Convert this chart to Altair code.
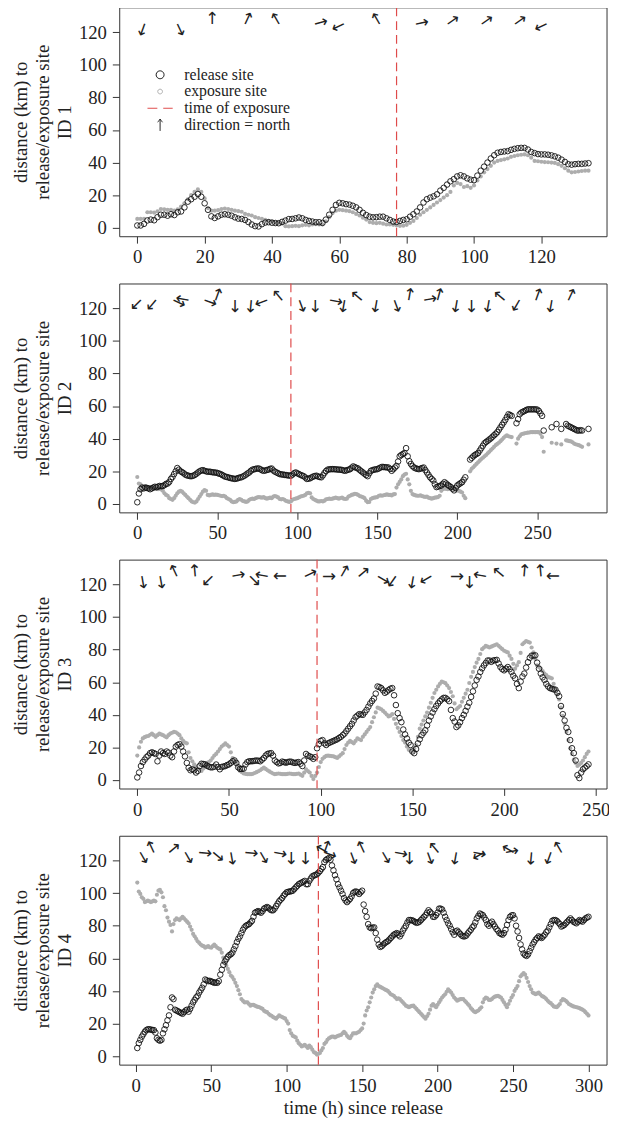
import altair as alt
import pandas as pd

FONT = "Liberation Serif, Times New Roman, Times, serif"
TXT = "#222222"
GRAY = "#adadad"
RED = "#df4b4b"

# ---------------- ID 1 ----------------
id1_release = [1.4,1.4,2.4,4.5,5,4.6,6.5,8,8,7.4, 8.3,7.8,9.5,10,12.5,16,17.5,19,20.7,19,
               15,11,7,6,7,8,8.3,8,7.4,6.4, 5.6,5.4,4.8,3.5,2,1,0.8,2.2,3.2,3.4,
               3.1,2.9,2.8,3.6,4.4,5.3,5.4,5.8,6.3,5.8, 4.8,4.2,3.8,3.4,3.4,3,5,8,11,14,
               15.3,15,14.5,14.2,13.5,12.5,11,9.2,7.8,6.8, 6.4,6.5,6.8,6.8,5.8,4.8,3.8,3.6,4.2,4.8,
               5.2,6.8,8.3,10,12.5,15.5,17.5,18.5,19.3,20.5, 22.8,24.5,26.5,28.5,29.8,31.5,32.2,31.5,30.3,29.5,
               29.2,32,35,37.5,40,42.5,44.5,46,46.5,46.8, 47,47.8,48.4,48.8,49,49,48,46.5,45.8,45.2,
               45,45,44.8,44.4,43.8,43,41.8,40.4,39,38.7, 39,39.2,39.2,39.4,39.6]
id1_exposure = [5.4,5.4,5.5,9.5,9.5,9.3,10,11.5,11.3,11, 11,10.5,11.3,13,15,17.5,20,22,23.5,22,
                18,12,10.5,10.5,10.8,11.5,11.8,11.5,11,10.5, 10.2,9.8,8.5,8,7.5,6.5,6,5.5,4.8,4.3,
                4,3.2,3,2.5,1,0.8,1,1.2,1,1.5, 1.8,1.5,2,2.2,2,2,4,6.5,9,10.5,
                11,10.8,10.5,10.2,9.5,8.5,7.5,6.2,5,3.5, 3,2.8,3,2.5,2,2,1.8,1.5,1.2,1.3,
                1.8,3,4.2,6,8,9.5,11,12.5,14,15.5, 17,18.5,20,22,26,27.5,26.8,25,25.5,24.5,
                26,29,31.5,34,36,38,40,41,41.5,42, 42.5,43.5,44,44.5,44.8,45,44.5,43,41,40.8,
                40.5,40.3,40.2,40,39.8,39,38,36.5,35,34, 34.2,34.5,34.8,35,35]
id1_exposure_time = 77
id1_arrow_t = [1.7,12.5,22.2,32.6,41.4,54.2,60,71.2,84.2,93.4,103.5,113.4,120.2]
id1_arrow_dir = [200,155,0,25,330,75,245,330,78,55,55,55,245]

# ---------------- ID 2 ----------------
id2_release = [1,6.4,9,10,9.5,10,9.8,9.5,9,9.5, 10,10.5,10.2,10.6,11,10.8,11,11.5,12.3,12.5,
               13.5,15.3,16.5,18.3,20,22,21,20,19.5,18.8, 18,17.5,17.3,17,17,17.3,17.8,18.5,19.3,20,
               20.5,20.7,20.3,20,19.7,19.8,19.6,19.4,19.3,19.2, 19,18.6,18.3,17.8,17.2,16.7,16.5,16.2,15.9,15.7,
               15.5,15.3,15.5,15.8,16.2,16.3,16.8,17.3,18,18.7, 19.3,20.3,21,21.2,21.5,21.7,21.7,21.2,20.6,20.3,
               20.5,20.8,21,21.5,21.7,20.5,19.8,19.3,18.8,18.3, 18.1,18,17.8,17.7,17.5,17.4,17.3,18,18.8,19.3,
               18.8,18.3,17.8,17.4,17,16.2,15.3,15.5,15.7,16.3, 16.8,17.1,17.3,16.8,16.5,16.3,17.5,19,20.2,21,
               21.2,21.3,21.3,21.3,21.2,21.1,21,21,20.8,20.5, 20.3,20.7,21,21.3,22.2,23,22.5,22.1,21.7,20.8,
               20,19.3,18.5,17.7,17,18.8,20.3,20.7,21,21.2, 21.3,21.8,22.3,22.7,22.6,22.5,22.4,22.3,21.5,20.3,
               21.3,22.3,23.3,26,29.2,30,30.6,31.2,34.2,29.2, 26.2,24.5,23.2,22.3,21.8,21.5,21.3,21.6,22,22.3,
               20.8,19.3,17.8,16.3,15.3,14.3,12,10.3,10.6,11, 11.3,12.3,13.3,12.5,11.7,11,10.3,9.3,8.3,9.8,
               11.3,12,12.7,13.3,14.8,16.3,None,None,27.2,28.2, 29.2,30,30.6,31.2,32.7,34.2,35.7,37.2,38,38.7,
               39.5,40.2,41.2,42.1,43,44,45.5,47,48.5,50, 51.5,53.3,55,54.5,54,None,None,49.5,52,55,
               56,56.5,57,57.5,58,58,58,58,58,58, 57.8,57,55.5,54,45,None,None,None,None,47,
               None,None,49,None,None,46,None,None,49,48, 47.5,47,46.5,46,45.5,45,45,45.2,45,None,
               None,None,46]
id2_exposure = [16.5,12.5,12,11,10.5,10.8,10.5,10.2,10,10.2, 10,9.5,9.3,9,9.2,8.8,8,6.5,5.5,5,
                3.5,3,2.5,3.5,5,6.5,7.5,8,7.5,6.5, 5.5,4.5,3.5,2.5,1.5,1,0.8,1.5,3,4.5,
                6,7.5,8.5,8,5.5,5.2,5.5,5.8,5.5,5.7, 5.5,5.3,5,4.8,5,4.5,3.5,3,2.5,1.5,
                1,1.2,1.5,2.5,3,2.5,1.8,1.5,1.2,1.5, 2.5,3,3.2,3,3.5,4,4.2,4,3.8,4.2,
                3.5,3.2,3.5,3.8,3.5,4.5,4.8,4.5,4,3, 2.8,3,2.5,1.8,1.5,1.2,1.5,2.5,3,3.2,
                3.5,4,4.5,4.8,5,5.5,6.5,6.8,6.5,4, 3,2.5,2,1.5,1.5,1.8,1.5,2,2.8,3,
                3.2,3,3.2,3.5,3.8,3.5,3.2,3.6,3.8,3.2, 3,3.2,4.5,5,5.5,5.8,6.2,6,5.5,4.8,
                4.5,4.2,3.5,2,1,1.2,3,3.5,3.8,4, 4.2,5,5.2,5,5.3,5.5,5.8,5.5,5.5,5.2,
                5.8,6,10,12,13.5,15,17,18,18.5,15, 12,8,6,5.5,5.2,5,5,5.2,4.8,4.5,
                4.3,4.5,3.8,3.5,3.2,3.5,3.8,4,4.2,5, 8,9,9.5,9.2,9,9.3,10,9.5,9,8.5,
                8.2,8,7.5,7,5,3.5,None,None,20,21.5, 22.5,23.5,24.5,25.5,26.5,27.5,28.3,29.2,30,31,
                32,33,34,35,36,36.8,37.5,38.5,39.5,40.5, 41.5,42,41.5,41.2,41,None,None,37,40,41.5,
                42.7,43,43.3,43.5,43.7,43.8,44,44,44,44, 44,44,43,41,32,None,None,None,None,37.5,
                None,None,37,None,None,36.5,None,None,39,38.8, 38.5,38.4,37.8,37,36.6,36.3,36,35.5,35,None,
                None,None,36.5]
id2_exposure_time = 96
id2_arrow_t = [0,9.7,25.5,29,45,50,61.3,71,78.2,88.6,102.4,111.4,123.5,129,138,149.2,161.7,
               170.2,182.3,188.4,199.3,209,219.4,227.1,237.3,250.1,258.6,270.7]
id2_arrow_dir = [225,220,115,280,110,20,180,185,250,320,160,180,100,190,310,190,160,
                 10,80,15,190,180,190,310,210,20,190,25]

# ---------------- ID 3 ----------------
id3_release = [1.6,4.6,8.6,11,12.5,14,15,16.5,17,16.5, 16,11.5,15,17.5,16.5,16,17.5,16.8,15,14,
               17.5,20.5,21.5,22,20.5,17.5,14.5,10.5,7.5,6, 6.6,6,4.6,5.6,8.6,10,9.8,9.6,8.8,8.2,
               7.8,7.8,8.2,9.5,8,6.6,8,8.3,8.6,9.2, 9.6,10.5,11.5,12,10.5,7.8,6.8,6.8,7,9.5,
               11,11.5,11.5,11.6,11.8,12,11.8,11.5,12.5,13.5, 15,16,16.3,16.5,15,12,11,10.2,10.5,11.3,
               11,10.6,11,11.3,11.2,10.7,10.5,10.8,11,10, 8.6,12,16,15,14.5,14,13,14,19.5,22,
               24,24.5,22.5,21.5,22.5,23,23.5,24,24.5,25, 25.8,26.5,27.5,28.5,30,31.5,33,34.5,36.5,38.5,
               39.5,40.4,40.2,40,41.5,43,45,47,48.5,50, 53,57.4,57,56.4,55,53.5,54.2,55.2,56,56.4,
               52,46,41,38,35.5,31,28,25.5,23,21.5, 17.5,16.5,19,22.5,25,27.5,29,30.5,33.5,36.5,
               39,41.4,43.5,45.4,47,48.4,49.5,50.4,50.4,49.5, 48.4,43,38,35.9,32.5,33.5,35.5,38,40,42.4,
               45,47.4,51,54.4,58,61.4,63.5,66.3,68.5,70.3, 71.8,73.3,73.3,72.5,73.3,73.5,73.7,71.5,69.3,68,
               67.3,68.3,69.3,68,66.3,64,62.4,59,56.4,60.4, 63.5,65.3,69,72.3,75,76.3,76.3,76.5,72,68.3,
               65.3,63,61.4,59,57.4,56.4,56,55.6,55.4,53.5, 51.4,45.4,40.4,36.5,32,29.5,24.5,19.5,16.5,12,
               3,1.2,4.6,6.6,7.6,8.5,9.6]
id3_exposure = [15,20,23.5,25.5,26.3,26.8,27,27.8,28.5,27.5, 26.5,27.5,28.5,28,27.5,26.8,26.2,27.5,28.5,29,
                29.5,29.3,28.5,27.5,25.5,24,23,22.5,17,13.5, 11.5,9.6,8.2,7,6.2,5.6,7,8.5,10.2,11,
                12,13.5,15,16,17.5,19,20.5,21.5,22.5,21.5, 20.5,17,13.5,12,10.5,8,5.6,4.8,4,3.8,
                3.6,3.6,3.6,3.8,4.3,4.8,5.4,6,6.8,7.6, 6.8,6,5.3,4.6,4,3.6,3.8,4,3.8,3.6,
                3.6,3.6,3.8,4,3.8,3.6,3.6,3.8,4,3.3, 2.6,4.5,6.6,5.5,4.6,2.5,0.6,2.5,4.6,8,
                11,13,14,14.8,15,14.8,14.7,14.5,14,13.5, 14.5,15.5,16.5,19,21.5,23,24,23.2,22.5,24,
                25.5,25,24.5,26.5,28,29.5,31,32.5,35.5,38.5, 41.5,44.4,44,43.4,42.4,41.4,40.2,39,39.5,40.4,
                37.5,34.5,32,29.5,27,24.5,23,20.5,18.5,18, 17.5,19.5,21.5,26.5,31.5,34,36.5,39,41.4,44.4,
                47.4,50.4,53.4,55.4,57.4,59,60.4,60,59.4,58, 56.4,54,51.4,47,43.4,44.5,45.4,48,50.4,53,
                55.4,59.5,63.3,66.3,69.3,72,74.3,77.3,80.3,81.3, 82.3,81.8,81.3,81.8,82.3,82.8,83.3,82.3,81.3,80.3,
                79.3,78.8,78.3,76.3,74.3,71.3,68.3,70.3,72.3,78, 83.3,84.3,85.3,84.8,84.3,81.3,78.3,74.3,70.3,69.3,
                68.3,66.8,65.3,64.3,63.3,62.8,62.4,59,55.4,52.4, 49.4,44.4,39.4,34.5,29.5,24.5,19.5,16,12.5,10.5,
                8.6,9.5,10.5,12,14,16,17.5]
id3_exposure_time = 98
id3_arrow_t = [2.9,12.9,20.4,31.4,39,54.6,63.4,68.5,78.6,93.9,104.1,112.6,122.8,133.5,139.4,
               150,157.9,173.5,181.2,187.5,197.6,211,219.9,227]
id3_arrow_dir = [170,170,335,355,225,80,135,280,270,65,90,30,50,120,215,
                 190,240,90,180,280,310,5,355,270]

# ---------------- ID 4 ----------------
id4_release = [5,8,10,12,13.5,15,16,16.5,16.5,16.3, 16,16,14.5,11,10,9.5,10,14,16.5,19,
               22,25,30,36,35,28.5,28,27.5,27,26.5, 26,27,28,28.5,27.3,29,31,33,34.5,36,
               37,39,40.5,42,44,47,46.5,46,46.2,45.8, 45.5,45,45.2,45,46,50,53,56,58,59.5,
               61,62,62.5,63.5,65.5,67.5,70,72,73.5,75.5, 77.5,79,80,80.5,81,82,83,85.5,88,88.5,
               89,88.5,88,89,90.5,91,91.5,91,90,89.5, 89.5,90.5,92,93.5,95,96,97,98.5,99.5,100.5,
               100.8,101,101.2,101.5,102.5,103.5,104.5,105.5,106,106.5, 107,107.5,105.5,105.5,107.5,109,110.3,110.8,111.2,111.5,
               112.5,113.5,114.8,116,119,120.3,121,121.5,120.5,117, 114,111,108.5,105.5,103.5,101.5,99.5,97,95.5,94.5,
               95.5,96.5,98,100,100.8,101,100.5,99.5,100.5,101.5, 93,89,85.5,81,79,78.5,78.8,79,75.5,71.5,
               68.5,67,67.5,68.5,69.3,70,70.5,71.5,72.5,73.5, 74.5,75,75.5,74.5,73.5,75,77,78.5,80,82,
               83.5,83.5,83.3,83,82.3,81.8,82,82.5,83.5,84.5, 85.5,86.5,88,89.5,88.5,87.5,85.5,85.5,86.5,88,
               90.5,90.5,90,88,85.5,83.5,81.5,80,78,76, 74.5,76.5,77,76,75,74,73.5,73.5,74,75.3,
               76.5,77.5,79,80,82,84.5,86,87.5,87,86.5, 85,83.5,81,80,81.5,82.5,81,79.5,78,77,
               75.5,75,74.5,75.5,77.5,80.5,83.5,85.5,86.3,86.5, 84.5,80,76.5,72.5,68.5,65.5,63,62,61.5,62.5,
               64.5,66.5,68.5,70,71.5,72.5,73.5,73,72.5,73.5, 74.5,76,77,79,81,83,83.5,83.5,83,82,
               81,79.5,80,80.5,81.5,82.5,83.5,84.5,83.5,82.5, 82,81.5,82.5,83.5,83,82.5,83.5,84.5,85,85.5]
id4_exposure = [106.5,101,99.5,97.5,96.5,94.5,95,95.5,95,94.5, 95,95.5,95,99,101.5,102,100.5,97.5,92,89.5,
                85,82.5,80.5,76.5,81,83.5,84.5,84,83.5,84.5, 85.5,84.5,83.5,82.5,81.5,79.5,77.5,75,73.5,72,
                70.5,69.5,68.5,67.8,67.5,66.5,67,67.5,66.8,66.5, 67.5,68.5,67.5,66.5,66,65.5,63.5,60.5,57.5,55.5,
                53.5,51.5,49.5,48.5,47,45,43,40.5,38,35, 34,33,33,33,32,31,31.5,31.5,31,30.5,
                30.2,30,29.5,29,27.8,27.3,27,26,25.2,24.8, 24,23.5,23,24,25,24.5,24,23.5,23,21.5,
                20,16,14,12.5,12,11.5,9.5,8,7,6, 6.5,7,6,5,6.5,5.5,4,2.5,2,1,
                1.5,2,3.5,5,7.5,8.5,10,11,11.5,12, 12,11.5,12,12.5,12.8,13,14,15,14,12.5,
                11.5,11,12.5,14,14,14,14.5,15,16,17, 20,25,28,30,33,36,39,41,43,44,
                43,42.5,42,41.5,41,40.5,40,39,38,37.5, 37,36,35,35.5,35,34,33,32,31,30.5,
                30,30.5,30.8,31,30,29,28,27,26,25, 24,23,24.5,26,28.5,31,32,31,30,31.5,
                33,34.5,36,37,38,39.5,41,40,39,37.5, 36,35,34,34.5,35,35,35,34,33,32,
                31,29.5,28.5,27.5,27,27.5,28,29,30,33, 35,36,35.5,34.5,34.5,35,36,36.5,36.8,37,
                36.5,36,34.5,33,31.5,30,32,34,36,37.5, 40,41.5,43,46,49,50,51,50,48,45.5,
                43,41,39,38.5,38,38.5,39,38,37,36.5, 36,35,34,33,32.5,31.5,30.5,30.2,30,31,
                32,34,35,34.5,34,33,32,31.5,31,30.5, 30.3,30,29.8,29.5,29,28.5,28,27,26,25]
id4_exposure_time = 121
id4_arrow_t = [4.5,10.6,24.7,34.4,45.2,53.9,63.6,75.9,84.2,95,103.2,112.7,124,126,128,
               143.7,150,165.3,175,181.5,194.5,198.4,211.8,227,228,247.5,248.5,262,274,280.6]
id4_arrow_dir = [150,335,50,150,95,130,170,95,150,100,180,180,300,20,110,
                 160,335,150,100,180,160,320,190,100,240,300,80,185,200,330]

legend_items = ["release site", "exposure site", "time of exposure", "direction = north"]

y_ticks = [0, 20, 40, 60, 80, 100, 120]
Y_DOMAIN = [-5.2, 135.2]
W, H = 495, 232.5


def rdomain(t0, t1):
    s = t1 - t0
    return [t0 - 0.04 * s, t1 + 0.04 * s]


def panel(ident, t0, rel, expo, t_exp, arr_t, arr_dir, xticks, xtitle=None, legend=False):
    t = [t0 + i for i in range(len(rel))]
    df = pd.DataFrame({"t": t, "release": rel, "exposure": expo})
    xdom = rdomain(t[0], t[-1])
    xaxis = alt.Axis(values=xticks, title=xtitle, labelFlush=False, labelOverlap=False)
    xs = alt.Scale(domain=xdom, nice=False, zero=False)
    ys = alt.Scale(domain=Y_DOMAIN, nice=False, zero=False)
    ytitle = ["distance (km) to", "release/exposure site", f"ID {ident}"]
    yaxis = alt.Axis(values=y_ticks, title=ytitle, labelFlush=False, labelOverlap=False)

    gray = alt.Chart(df).mark_circle(color=GRAY, size=18, opacity=1).encode(
        x=alt.X("t:Q", scale=xs, axis=xaxis),
        y=alt.Y("exposure:Q", scale=ys, axis=yaxis),
    )
    black = alt.Chart(df).mark_point(shape="circle", filled=False, color="#111111",
                                     size=32, strokeWidth=0.9, opacity=1).encode(
        x=alt.X("t:Q", scale=xs, axis=xaxis),
        y=alt.Y("release:Q", scale=ys, axis=yaxis),
    )
    rule = alt.Chart(pd.DataFrame({"t": [t_exp]})).mark_rule(
        color=RED, strokeDash=[9, 5], strokeWidth=1.2).encode(
        x=alt.X("t:Q", scale=xs, axis=xaxis))
    adf = pd.DataFrame({"t": arr_t, "dir": arr_dir})
    arrows = alt.Chart(adf).transform_calculate(
        yy="125 + 3*cos(datum.dir*PI/180)"
    ).mark_text(text="\u2191", font="DejaVu Sans", fontSize=17, color=TXT,
                align="center", baseline="middle", clip=True).encode(
        x=alt.X("t:Q", scale=xs, axis=xaxis),
        y=alt.Y("yy:Q", scale=ys, axis=yaxis),
        angle=alt.Angle("dir:Q", scale=None),
    )
    layers = [gray, black, rule, arrows]
    if legend:
        lg = alt.Legend(title=None, orient="none", legendX=33, legendY=60,
                        labelFont=FONT, labelFontSize=16, labelColor=TXT,
                        labelOffset=16, symbolSize=256, symbolStrokeWidth=1,
                        rowPadding=0, padding=0)
        dom = legend_items
        ldf = pd.DataFrame({"item": legend_items})
        leg = alt.Chart(ldf).mark_point(opacity=0, size=256, clip=True).encode(
            x=alt.value(250), y=alt.value(120),
            shape=alt.Shape("item:N", scale=alt.Scale(domain=dom, range=[
                "M0.5,0A0.5,0.5 0 1,1 -0.5,0A0.5,0.5 0 1,1 0.5,0Z",
                "M0.3,0A0.3,0.3 0 1,1 -0.3,0A0.3,0.3 0 1,1 0.3,0Z",
                "M-1.6,0L1.6,0",
                "M0,0.75L0,-0.75M-0.3,-0.35L0,-0.75L0.3,-0.35"]), legend=lg),
            stroke=alt.Stroke("item:N", scale=alt.Scale(domain=dom, range=[
                "#111111", GRAY, RED, TXT]), legend=lg),
            fill=alt.Fill("item:N", scale=alt.Scale(domain=dom, range=[
                "transparent", GRAY, "transparent", "transparent"]), legend=lg),
            strokeDash=alt.StrokeDash("item:N", scale=alt.Scale(domain=dom, range=[
                [1, 0], [1, 0], [10, 6], [1, 0]]), legend=lg),
        )
        layers.append(leg)
    return alt.layer(*layers).properties(width=W, height=H)


p1 = panel(1, 0, id1_release, id1_exposure, id1_exposure_time, id1_arrow_t, id1_arrow_dir,
           [0, 20, 40, 60, 80, 100, 120], legend=True)
p2 = panel(2, 0, id2_release, id2_exposure, id2_exposure_time, id2_arrow_t, id2_arrow_dir,
           [0, 50, 100, 150, 200, 250])
p3 = panel(3, 0, id3_release, id3_exposure, id3_exposure_time, id3_arrow_t, id3_arrow_dir,
           [0, 50, 100, 150, 200, 250])
p4 = panel(4, 1, id4_release, id4_exposure, id4_exposure_time, id4_arrow_t, id4_arrow_dir,
           [0, 50, 100, 150, 200, 250, 300], xtitle="time (h) since release")

chart = alt.vconcat(p1, p2, p3, p4, spacing=47.5, bounds="flush").properties(
    padding={"left": 3, "top": -11.5, "right": -1.5, "bottom": 0}
).configure(
    font=FONT
).configure_view(
    stroke="#333333", strokeWidth=1
).configure_axis(
    labelFont=FONT, labelFontSize=19, labelColor=TXT,
    titleFont=FONT, titleFontSize=19, titleFontWeight="normal", titleColor=TXT,
    tickColor="#333333", tickSize=7, tickWidth=1, domain=False, grid=False,
).configure_axisY(
    labelPadding=6, titlePadding=3.5, titleLineHeight=22.5,
).configure_axisX(
    labelPadding=5, titlePadding=4,
)

chart.save("out.html", embed_options={"renderer": "svg", "actions": False})
